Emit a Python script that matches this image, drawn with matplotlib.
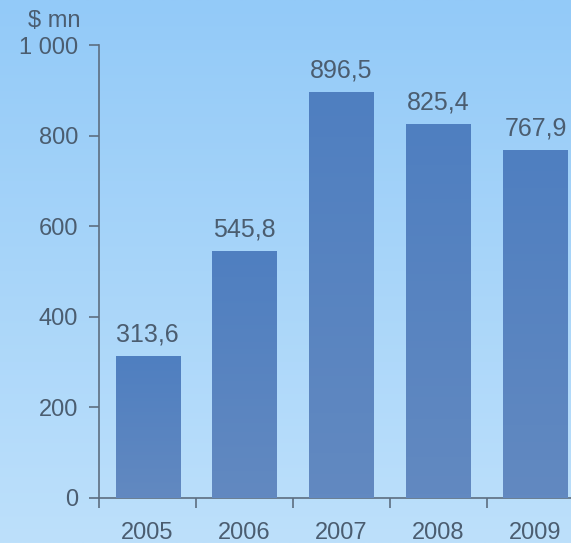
import numpy as np
import matplotlib
matplotlib.use('Agg')
import matplotlib.pyplot as plt
from matplotlib.colors import LinearSegmentedColormap

years = ['2005', '2006', '2007', '2008', '2009']
values = [313.6, 545.8, 896.5, 825.4, 767.9]
labels = ['313,6', '545,8', '896,5', '825,4', '767,9']
yticks = [0, 200, 400, 600, 800, 1000]
ytick_labels = ['0', '200', '400', '600', '800', '1 000']

txt = '#4b5d70'
axc = '#5d6e80'
plt.rcParams['font.family'] = ['Liberation Sans', 'DejaVu Sans']

fig = plt.figure(figsize=(5.71, 5.43), dpi=100)

# background gradient
bg = fig.add_axes([0, 0, 1, 1], zorder=0)
bg_cmap = LinearSegmentedColormap.from_list('bg', ['#93caf8', '#bde0fb'])
bg.imshow(np.linspace(0, 1, 256).reshape(-1, 1), aspect='auto', cmap=bg_cmap,
          extent=[0, 1, 0, 1])
bg.axis('off')

ax = fig.add_axes([0.1734, 0.0829, 0.8266, 0.834], zorder=1)
ax.patch.set_alpha(0)
x = np.arange(len(years))
bars = ax.bar(x, values, width=0.66, color='#5983c2', zorder=2)

# slight vertical gradient inside the bars
bar_cmap = LinearSegmentedColormap.from_list('bar', ['#6289c1', '#4f7fc0'])
for b in bars:
    im = ax.imshow(np.linspace(0, 1, 100).reshape(-1, 1), aspect='auto', cmap=bar_cmap,
                   extent=[b.get_x(), b.get_x() + b.get_width(), 0, b.get_height()],
                   origin='lower', zorder=3)
    im.set_clip_path(b)

for xi, v, lab in zip(x, values, labels):
    ax.annotate(lab, (xi, v), xytext=(0, 7), textcoords='offset points',
                ha='center', va='bottom', fontsize=18, color=txt)

ax.set_xlim(-0.5, 4.366)
ax.set_ylim(0, 1000)
ax.set_xticks(np.arange(-0.5, 4.5, 1))
ax.set_xticklabels([])
ax.set_xticks(x, minor=True)
ax.set_xticklabels(years, minor=True)
ax.set_yticks(yticks)
ax.set_yticklabels(ytick_labels)

ax.tick_params(axis='x', which='major', direction='out', length=7, width=1.2, color=axc)
ax.tick_params(axis='x', which='minor', length=0, pad=17, labelsize=17, labelcolor=txt)
ax.tick_params(axis='y', direction='out', length=7, width=1.2, color=axc,
               labelsize=17, labelcolor=txt, pad=8)

for s in ['top', 'right']:
    ax.spines[s].set_visible(False)
for s in ['left', 'bottom']:
    ax.spines[s].set_color(axc)
    ax.spines[s].set_linewidth(1.2)

ax.text(-0.04, 1.03, '\\$ mn', transform=ax.transAxes, ha='right', va='bottom',
        fontsize=17, color=txt)

fig.savefig('out.png', dpi=100)
